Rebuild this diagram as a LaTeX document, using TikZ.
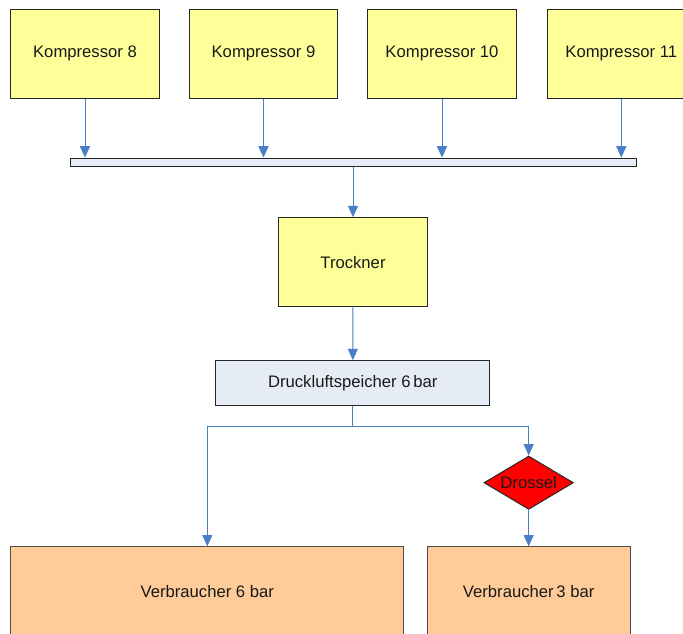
\documentclass[tikz,border=0pt]{standalone}
\usepackage{fontspec}
\setmainfont{Liberation Sans}
\usetikzlibrary{shapes.geometric,arrows.meta}
\definecolor{kyellow}{HTML}{FFFF99}
\definecolor{kblue}{HTML}{E6ECF5}
\definecolor{korange}{HTML}{FFCC99}
\definecolor{karrow}{HTML}{4A7EC6}
\tikzset{
  box/.style={draw=black!85, line width=0.75pt, inner sep=0pt, font=\fontsize{12.5}{15}\selectfont, text=black!90},
  komp/.style={box, fill=kyellow, minimum width=111.4pt, minimum height=66.5pt},
  verb/.style={box, draw=black!70, fill=korange, minimum height=67pt},
  conn/.style={draw=karrow, line width=0.75pt},
  arr/.style={conn, -{Triangle[width=7.5pt,length=8.5pt]}},
}
\begin{document}
\begin{tikzpicture}[x=0.75pt,y=-0.75pt]
\useasboundingbox (0,0) rectangle (683,633);
\clip (0,0) rectangle (683,633);
\fill[white] (0,0) rectangle (683,633);
% compressors
\node[komp] (k8) at (85,53.7) {Kompressor 8};
\node[komp] (k9) at (263.5,53.7) {Kompressor 9};
\node[komp] (k10) at (442,53.7) {Kompressor 10};
\node[komp] (k11) at (621.3,53.7) {Kompressor 11};
% bar
\node[box, fill=kblue, minimum width=424.5pt, minimum height=6.5pt] (bar) at (353,162.4) {};
% dryer
\node[box, fill=kyellow, minimum width=112pt, minimum height=67pt] (tr) at (353,262.3) {Trockner};
% storage
\node[box, fill=kblue, minimum width=205.7pt, minimum height=33.5pt] (dr) at (352.8,383) {Druckluftspeicher 6\,bar};
% throttle
\node[box, shape=diamond, fill=red, minimum width=67pt, minimum height=40pt, aspect=1.675] (ds) at (528.7,482.7) {Drossel};
% consumers
\node[verb, minimum width=295pt] (v6) at (207.3,591.5) {Verbraucher 6 bar};
\node[verb, minimum width=152pt] (v3) at (528.7,591.5) {Verbraucher\,3 bar};
% connectors
\foreach \k in {k8,k9,k10,k11}{
  \draw[arr] (\k.south) -- (\k.south |- bar.north);
}
\draw[arr] (bar.south) -- (tr.north);
\draw[arr] (tr.south) -- (dr.north);
\coordinate (j) at (352.8,426.3);
\draw[conn] (dr.south) -- (j);
\draw[arr] (j) -| (v6.north);
\draw[arr] (j) -| (ds.north);
\draw[arr] (ds.south) -- (v3.north);
\end{tikzpicture}
\end{document}
